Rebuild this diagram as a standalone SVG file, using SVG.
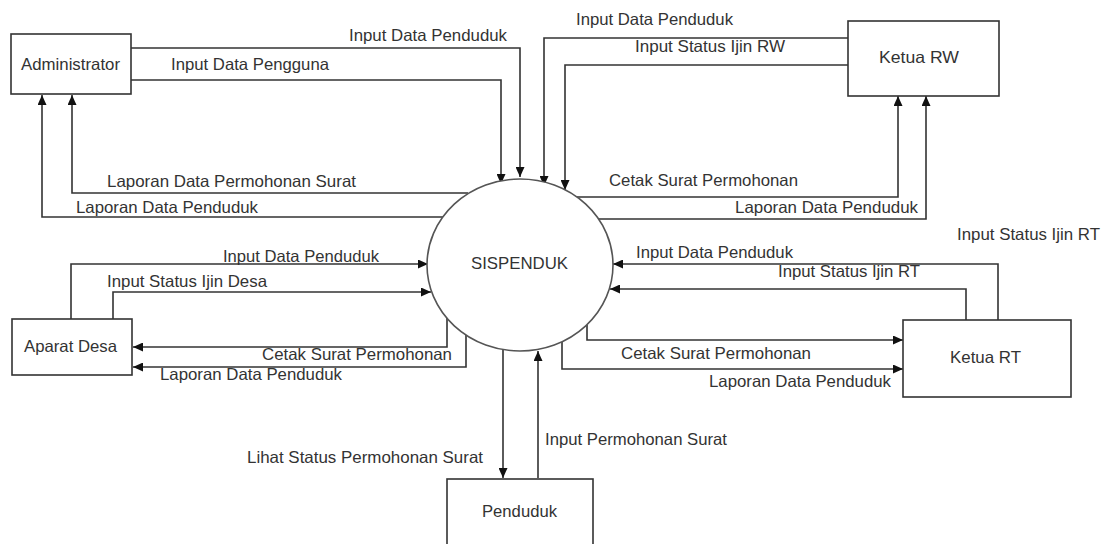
<svg xmlns="http://www.w3.org/2000/svg" width="1105" height="544" viewBox="0 0 1105 544">
  <style>
    .box { fill: #ffffff; stroke: #333333; stroke-width: 1.6; }
    .proc { fill: #ffffff; stroke: #555555; stroke-width: 1.6; }
    .flow { fill: none; stroke: #333333; stroke-width: 1.6; marker-end: url(#arrow); }
    text { font-family: "Liberation Sans", Arial, sans-serif; font-size: 16.5px; fill: #333333; }
  </style>
  <defs>
    <marker id="arrow" markerUnits="userSpaceOnUse" markerWidth="10" markerHeight="9" refX="10" refY="4.5" orient="auto">
      <path d="M0,0 L10,4.5 L0,9 Z" fill="#111111"/>
    </marker>
  </defs>
  <rect width="1105" height="544" fill="#ffffff"/>

  <g id="connectors">
    <path class="flow" d="M131,48 H520 V177"/>
    <path class="flow" d="M131,80 H501 V184"/>
    <path class="flow" d="M468,193 H72 V95"/>
    <path class="flow" d="M443,217 H42 V95"/>
    <path class="flow" d="M848,38 H544 V186"/>
    <path class="flow" d="M848,65 H565 V190"/>
    <path class="flow" d="M573,197 H898 V96"/>
    <path class="flow" d="M597,219 H926 V96"/>
    <path class="flow" d="M71,319 V264 H428"/>
    <path class="flow" d="M113,319 V292 H431"/>
    <path class="flow" d="M447,318 V347 H133"/>
    <path class="flow" d="M466,335 V367 H133"/>
    <path class="flow" d="M998,320 V264 H613"/>
    <path class="flow" d="M966,320 V289 H610"/>
    <path class="flow" d="M587,325 V340 H903"/>
    <path class="flow" d="M562,342 V369 H903"/>
    <path class="flow" d="M503,350 V478"/>
    <path class="flow" d="M538,478 V351"/>
  </g>

  <g id="labels">
    <text x="349" y="41" textLength="158" lengthAdjust="spacingAndGlyphs">Input Data Penduduk</text>
    <text x="171" y="70" textLength="158" lengthAdjust="spacingAndGlyphs">Input Data Pengguna</text>
    <text x="107" y="187" textLength="249" lengthAdjust="spacingAndGlyphs">Laporan Data Permohonan Surat</text>
    <text x="76" y="213" textLength="182" lengthAdjust="spacingAndGlyphs">Laporan Data Penduduk</text>
    <text x="576" y="25" textLength="157" lengthAdjust="spacingAndGlyphs">Input Data Penduduk</text>
    <text x="635" y="52" textLength="150" lengthAdjust="spacingAndGlyphs">Input Status Ijin RW</text>
    <text x="609" y="186" textLength="189" lengthAdjust="spacingAndGlyphs">Cetak Surat Permohonan</text>
    <text x="735" y="213" textLength="183" lengthAdjust="spacingAndGlyphs">Laporan Data Penduduk</text>
    <text x="957" y="240" textLength="143" lengthAdjust="spacingAndGlyphs">Input Status Ijin RT</text>
    <text x="223" y="262" textLength="156" lengthAdjust="spacingAndGlyphs">Input Data Penduduk</text>
    <text x="107" y="287" textLength="160" lengthAdjust="spacingAndGlyphs">Input Status Ijin Desa</text>
    <text x="262" y="360" textLength="190" lengthAdjust="spacingAndGlyphs">Cetak Surat Permohonan</text>
    <text x="160" y="380" textLength="182" lengthAdjust="spacingAndGlyphs">Laporan Data Penduduk</text>
    <text x="636" y="258" textLength="157" lengthAdjust="spacingAndGlyphs">Input Data Penduduk</text>
    <text x="778" y="277" textLength="142" lengthAdjust="spacingAndGlyphs">Input Status Ijin RT</text>
    <text x="621" y="359" textLength="190" lengthAdjust="spacingAndGlyphs">Cetak Surat Permohonan</text>
    <text x="709" y="387" textLength="182" lengthAdjust="spacingAndGlyphs">Laporan Data Penduduk</text>
    <text x="247" y="463" textLength="236" lengthAdjust="spacingAndGlyphs">Lihat Status Permohonan Surat</text>
    <text x="545" y="445" textLength="182" lengthAdjust="spacingAndGlyphs">Input Permohonan Surat</text>
  </g>

  <g id="sispenduk">
    <ellipse class="proc" cx="520" cy="265" rx="93" ry="86"/>
    <text x="471" y="269" textLength="97" lengthAdjust="spacingAndGlyphs">SISPENDUK</text>
  </g>
  <g id="administrator">
    <rect class="box" x="11" y="34" width="120" height="60"/>
    <text x="21" y="70" textLength="99" lengthAdjust="spacingAndGlyphs">Administrator</text>
  </g>
  <g id="ketua-rw">
    <rect class="box" x="848" y="21" width="151" height="75"/>
    <text x="879" y="63" textLength="80" lengthAdjust="spacingAndGlyphs">Ketua RW</text>
  </g>
  <g id="aparat-desa">
    <rect class="box" x="12" y="319" width="120" height="56"/>
    <text x="24" y="352" textLength="93" lengthAdjust="spacingAndGlyphs">Aparat Desa</text>
  </g>
  <g id="ketua-rt">
    <rect class="box" x="903" y="320" width="168" height="77"/>
    <text x="950" y="363" textLength="71" lengthAdjust="spacingAndGlyphs">Ketua RT</text>
  </g>
  <g id="penduduk">
    <rect class="box" x="447" y="479" width="146" height="80"/>
    <text x="482" y="517" textLength="75" lengthAdjust="spacingAndGlyphs">Penduduk</text>
  </g>
</svg>
